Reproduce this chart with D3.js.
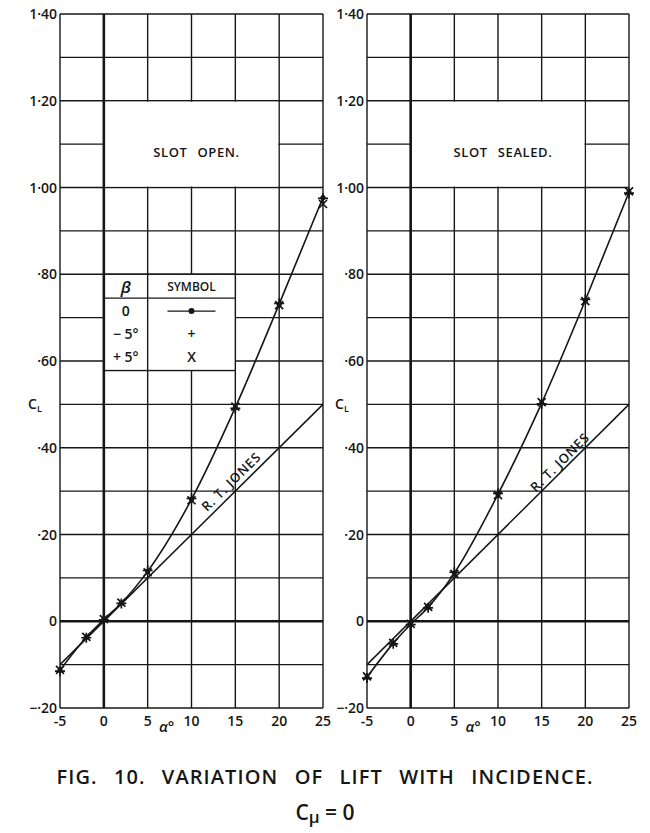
<!DOCTYPE html>
<html>
<head>
<meta charset="utf-8">
<script src="https://cdn.jsdelivr.net/npm/d3@7"></script>
<style>
  html, body { margin: 0; padding: 0; background: #fff; }
  svg { display: block; }
  text { font-family: "Open Sans", "DejaVu Sans", sans-serif; font-weight: 600; fill: #161616; }
</style>
</head>
<body>
<svg id="chart" width="650" height="833"></svg>
<script>
// Incidence (degrees) at which C_L was measured
const alphaPts = [-5, -2, 0, 2, 5, 10, 15, 20, 25];

// Slot open: C_L for each yaw angle beta
const openBeta0  = [-0.113, -0.037, 0.004, 0.042, 0.115, 0.281, 0.493, 0.731, 0.977];
const openBetaM5 = [-0.115, -0.038, 0.003, 0.041, 0.117, 0.283, 0.491, 0.733, 0.975];
const openBetaP5 = [-0.112, -0.036, 0.005, 0.043, 0.113, 0.279, 0.495, 0.729, 0.962];

// Slot sealed
const sealBeta0  = [-0.129, -0.051, -0.007, 0.032, 0.111, 0.293, 0.503, 0.740, 0.989];
const sealBetaM5 = [-0.131, -0.052, -0.008, 0.031, 0.113, 0.295, 0.501, 0.742, 0.987];
const sealBetaP5 = [-0.127, -0.050, -0.006, 0.033, 0.109, 0.291, 0.505, 0.738, 0.991];

// R. T. Jones theoretical line
const jonesAlpha = [-5, 25];
const jonesCL    = [-0.10, 0.50];

// Axis ticks and labels
const xTicks = [-5, 0, 5, 10, 15, 20, 25];
const xTickLabels = ["-5", "0", "5", "10", "15", "20", "25"];
const yTicks = [-0.2, 0, 0.2, 0.4, 0.6, 0.8, 1.0, 1.2, 1.4];
const yTickLabels = ["−·20", "0", "·20", "·40", "·60", "·80", "1·00", "1·20", "1·40"];

// Legend rows
const legendBeta = ["0", "− 5°", "+ 5°"];
const legendSymbol = ["line", "plus", "cross"];

const panelTitles = ["SLOT OPEN.", "SLOT SEALED."];

const svg = d3.select("#chart");
const ink = "#161616";

const y = d3.scaleLinear().domain([-0.2, 1.4]).range([708, 14]);

const panels = [
  { name: panelTitles[0], range: [60, 323],  series: [openBeta0, openBetaM5, openBetaP5], legend: true,  jonesAt: 15.3, jonesDy: -5 },
  { name: panelTitles[1], range: [367, 629], series: [sealBeta0, sealBetaM5, sealBetaP5], legend: false, jonesAt: 17.7, jonesDy: -3 }
];

panels.forEach(p => {
  const x = d3.scaleLinear().domain([-5, 25]).range(p.range);
  const g = svg.append("g");

  // grid: every 5 degrees and every 0.1 of C_L
  const xs = d3.range(-5, 25.1, 5);
  const ys = d3.range(-2, 14.1, 1).map(v => v / 10);
  g.selectAll(".gx").data(xs).join("line")
    .attr("x1", d => x(d)).attr("x2", d => x(d))
    .attr("y1", y(-0.2)).attr("y2", y(1.4))
    .attr("stroke", ink).attr("stroke-width", 1.4);
  g.selectAll(".gy").data(ys).join("line")
    .attr("x1", x(-5)).attr("x2", x(25))
    .attr("y1", d => y(d)).attr("y2", d => y(d))
    .attr("stroke", ink).attr("stroke-width", 1.4);

  // title box between alpha 0..20 and C_L 1.0..1.2
  g.append("rect")
    .attr("x", x(0) + 1).attr("y", y(1.2) + 1)
    .attr("width", x(20) - x(0) - 2).attr("height", y(1.0) - y(1.2) - 2)
    .attr("fill", "#fff");
  g.append("text")
    .attr("x", (x(0) + x(20)) / 2 + 5).attr("y", (y(1.2) + y(1.0)) / 2 + 13)
    .attr("text-anchor", "middle").attr("font-size", 13).attr("letter-spacing", 0.6)
    .attr("word-spacing", 6)
    .text(p.name);

  if (p.legend) {
    const lx0 = x(0), lx1 = x(15), lxm = x(5);
    const ly0 = y(0.8), ly1 = y(0.578), lyh = y(0.745);
    g.append("rect")
      .attr("x", lx0).attr("y", ly0).attr("width", lx1 - lx0).attr("height", ly1 - ly0)
      .attr("fill", "#fff").attr("stroke", ink).attr("stroke-width", 1.4);
    g.append("line").attr("x1", lxm).attr("x2", lxm).attr("y1", ly0).attr("y2", ly1)
      .attr("stroke", ink).attr("stroke-width", 1.4);
    g.append("line").attr("x1", lx0).attr("x2", lx1).attr("y1", lyh).attr("y2", lyh)
      .attr("stroke", ink).attr("stroke-width", 1.2);
    g.append("text").attr("x", (lx0 + lxm) / 2).attr("y", ly0 + 19)
      .attr("text-anchor", "middle").attr("font-size", 17)
      .attr("font-family", "DejaVu Serif, serif").attr("font-style", "italic")
      .text("β");
    g.append("text").attr("x", (lxm + lx1) / 2).attr("y", ly0 + 17)
      .attr("text-anchor", "middle").attr("font-size", 12)
      .text("SYMBOL");
    const colC = (lxm + lx1) / 2;
    legendBeta.forEach((b, i) => {
      const ry = lyh + 13 + i * 23;
      g.append("text").attr("x", (lx0 + lxm) / 2).attr("y", ry + 5)
        .attr("text-anchor", "middle").attr("font-size", 14).text(b);
      const s = legendSymbol[i];
      if (s === "line") {
        g.append("line").attr("x1", colC - 24).attr("x2", colC + 24).attr("y1", ry).attr("y2", ry)
          .attr("stroke", ink).attr("stroke-width", 1.2);
        g.append("circle").attr("cx", colC).attr("cy", ry).attr("r", 3).attr("fill", ink);
      } else {
        g.append("text").attr("x", colC).attr("y", ry + 5)
          .attr("text-anchor", "middle").attr("font-size", 14)
          .text(s === "plus" ? "+" : "X");
      }
    });
  }

  // heavier zero axes
  g.append("line").attr("x1", x(0)).attr("x2", x(0)).attr("y1", y(-0.2)).attr("y2", y(1.4))
    .attr("stroke", ink).attr("stroke-width", 2.6);
  g.append("line").attr("x1", x(-5)).attr("x2", x(25)).attr("y1", y(0)).attr("y2", y(0))
    .attr("stroke", ink).attr("stroke-width", 2.6);

  // R. T. Jones line
  const jones = jonesAlpha.map((a, i) => [a, jonesCL[i]]);
  g.append("path")
    .attr("d", d3.line().x(d => x(d[0])).y(d => y(d[1]))(jones))
    .attr("fill", "none").attr("stroke", ink).attr("stroke-width", 1.5);
  const ang = Math.atan2(y(jonesCL[1]) - y(jonesCL[0]), x(jonesAlpha[1]) - x(jonesAlpha[0])) * 180 / Math.PI;
  const jt = p.jonesAt;
  const jv = jonesCL[0] + (jt - jonesAlpha[0]) * (jonesCL[1] - jonesCL[0]) / (jonesAlpha[1] - jonesAlpha[0]);
  g.append("text")
    .attr("transform", `translate(${x(jt)},${y(jv)}) rotate(${ang})`)
    .attr("dy", p.jonesDy).attr("text-anchor", "middle")
    .attr("font-size", 13).attr("letter-spacing", 0.8)
    .text("R. T. JONES");

  // beta = 0 curve
  const pts = alphaPts.map((a, i) => [a, p.series[0][i]]);
  g.append("path")
    .attr("d", d3.line().x(d => x(d[0])).y(d => y(d[1])).curve(d3.curveMonotoneX)(pts))
    .attr("fill", "none").attr("stroke", ink).attr("stroke-width", 1.6);

  // symbols: dot (beta 0), plus (beta -5), cross (beta +5)
  g.selectAll(".dot").data(alphaPts).join("circle")
    .attr("cx", d => x(d)).attr("cy", (d, i) => y(p.series[0][i])).attr("r", 2.6)
    .attr("fill", ink);
  g.selectAll(".plus").data(alphaPts).join("path")
    .attr("transform", (d, i) => `translate(${x(d)},${y(p.series[1][i])})`)
    .attr("d", "M-5,0H5M0,-5V5")
    .attr("stroke", ink).attr("stroke-width", 1.7);
  g.selectAll(".cross").data(alphaPts).join("path")
    .attr("transform", (d, i) => `translate(${x(d)},${y(p.series[2][i])})`)
    .attr("d", "M-4,-4L4,4M-4,4L4,-4")
    .attr("stroke", ink).attr("stroke-width", 1.7);

  // y tick labels
  g.selectAll(".yl").data(yTicks).join("text")
    .attr("x", x(-5) - 3).attr("y", d => y(d) + 5)
    .attr("text-anchor", "end").attr("font-size", 14)
    .text((d, i) => yTickLabels[i]);
  // x tick labels
  g.selectAll(".xl").data(xTicks).join("text")
    .attr("x", d => x(d)).attr("y", y(-0.2) + 18)
    .attr("text-anchor", "middle").attr("font-size", 14)
    .text((d, i) => xTickLabels[i]);
  // axis titles
  const cl = g.append("text").attr("x", x(-5) - 32).attr("y", y(0.5) + 5).attr("font-size", 14);
  cl.append("tspan").text("C");
  cl.append("tspan").attr("font-size", 9).attr("dy", 3).text("L");
  g.append("text").attr("x", (x(5) + x(10)) / 2 - 3).attr("y", y(-0.2) + 24)
    .attr("text-anchor", "middle").attr("font-size", 15)
    .attr("font-family", "DejaVu Serif, serif").attr("font-style", "italic")
    .text("α°");
});

// figure caption
svg.append("text").attr("x", 325).attr("y", 784)
  .attr("text-anchor", "middle").attr("font-size", 20).attr("letter-spacing", 1.1)
  .attr("word-spacing", 10)
  .text("FIG. 10. VARIATION OF LIFT WITH INCIDENCE.");
const sub = svg.append("text").attr("x", 325).attr("y", 820)
  .attr("text-anchor", "middle").attr("font-size", 21);
sub.append("tspan").text("C");
sub.append("tspan").attr("font-size", 17).attr("dy", 3).text("μ");
sub.append("tspan").attr("dy", -3).text(" = 0");
</script>
</body>
</html>
